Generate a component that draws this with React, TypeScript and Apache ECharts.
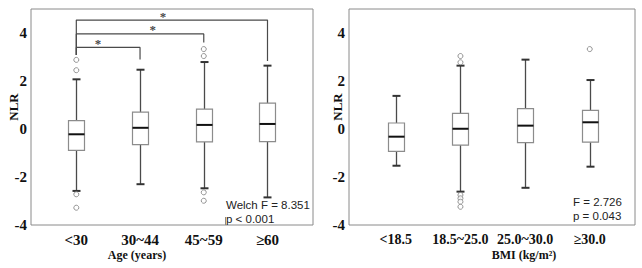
import React, { useEffect, useRef } from "react";
import * as echarts from "echarts";

// ---- Data ----
const ageCategories = ["<30", "30~44", "45~59", "≥60"];
const ageLow = [-2.58, -2.3, -2.47, -2.85];
const ageQ1 = [-0.89, -0.65, -0.54, -0.53];
const ageMedian = [-0.22, 0.05, 0.17, 0.21];
const ageQ3 = [0.35, 0.7, 0.83, 1.08];
const ageHigh = [2.07, 2.47, 2.79, 2.64];
const ageOutlierCat = [1, 1, 1, 1, 3, 3, 3, 3];
const ageOutlierVal = [2.88, 2.45, -2.72, -3.28, 3.33, 3.04, -2.64, -2.99];

const bmiCategories = ["<18.5", "18.5~25.0", "25.0~30.0", "≥30.0"];
const bmiLow = [-1.53, -2.61, -2.45, -1.57];
const bmiQ1 = [-0.93, -0.67, -0.57, -0.55];
const bmiMedian = [-0.32, 0.01, 0.14, 0.28];
const bmiQ3 = [0.25, 0.65, 0.85, 0.78];
const bmiHigh = [1.38, 2.64, 2.89, 2.04];
const bmiOutlierCat = [2, 2, 2, 2, 2, 2, 4];
const bmiOutlierVal = [3.04, 2.78, -2.75, -2.89, -3.03, -3.24, 3.33];

// significance brackets (left panel): from cat, to cat, bracket level, right drop, star x
const bracketFrom = [1, 1, 1];
const bracketTo = [2, 3, 4];
const bracketLevel = [3.4, 3.96, 4.54];
const bracketDrop = [2.9, 3.6, 2.83];
const bracketStarX = [1.34, 2.2, 2.36];
const bracketLeftDrop = 3.08;

const yTicks = [-4, -2, 0, 2, 4];
const ageStat = ["Welch F = 8.351", "p < 0.001"];
const bmiStat = ["F = 2.726", "p = 0.043"];

const serif = "Liberation Serif, Times New Roman, serif";
const sans = "Liberation Sans, Arial, sans-serif";

function boxRows(low: number[], q1: number[], med: number[], q3: number[], high: number[]) {
  return low.map((_, i) => [i + 1, low[i], q1[i], med[i], q3[i], high[i]]);
}

function renderBox(params: any, api: any) {
  const x = api.value(0);
  const lo = api.coord([x, api.value(1)]);
  const q1 = api.coord([x, api.value(2)]);
  const md = api.coord([x, api.value(3)]);
  const q3 = api.coord([x, api.value(4)]);
  const hi = api.coord([x, api.value(5)]);
  const cx = Math.round(lo[0]) + 0.5;
  const half = 8;
  const cap = 4;
  const whisker = { stroke: "#4a4a4a", fill: null, lineWidth: 1.3 };
  const capStyle = { stroke: "#333", fill: null, lineWidth: 2 };
  return {
    type: "group",
    children: [
      { type: "line", shape: { x1: cx, y1: hi[1], x2: cx, y2: q3[1] }, style: whisker },
      { type: "line", shape: { x1: cx, y1: q1[1], x2: cx, y2: lo[1] }, style: whisker },
      { type: "line", shape: { x1: cx - cap, y1: hi[1], x2: cx + cap, y2: hi[1] }, style: capStyle },
      { type: "line", shape: { x1: cx - cap, y1: lo[1], x2: cx + cap, y2: lo[1] }, style: capStyle },
      {
        type: "rect",
        shape: { x: cx - half, y: q3[1], width: half * 2, height: q1[1] - q3[1] },
        style: { fill: "#fff", stroke: "#8c8c8c", lineWidth: 1.2 },
      },
      { type: "line", shape: { x1: cx - half, y1: md[1], x2: cx + half, y2: md[1] }, style: { stroke: "#111", fill: null, lineWidth: 2 } },
    ],
  };
}

function xAxisFor(gridIndex: number, cats: string[], min: number, max: number, fontSize: number) {
  return {
    type: "value",
    gridIndex,
    min,
    max,
    axisLine: { show: false },
    axisTick: { show: false },
    splitLine: { show: false },
    axisLabel: {
      customValues: [1, 2, 3, 4],
      formatter: (v: number) => cats[Math.round(v) - 1] ?? "",
      fontFamily: serif,
      fontWeight: "bold",
      fontSize,
      color: "#111",
      margin: 7,
    },
  };
}

function yAxisFor(gridIndex: number) {
  return {
    type: "value",
    gridIndex,
    min: -4,
    max: 5,
    interval: 2,
    axisLine: { show: false },
    axisTick: { show: false },
    splitLine: { show: false },
    axisLabel: {
      customValues: yTicks,
      fontFamily: serif,
      fontWeight: "bold",
      fontSize: 15,
      color: "#111",
      margin: 4,
    },
  };
}

export default function App() {
  const ref = useRef<HTMLDivElement>(null);
  useEffect(() => {
    if (!ref.current) return;
    const chart = echarts.init(ref.current, undefined, { renderer: "svg" });
    const statStyle = { font: "11.5px " + sans, fill: "#222" };
    const nameStyle = (t: string) => ({ text: t, font: "bold 12px " + serif, fill: "#111", align: "center", verticalAlign: "middle" });
    const bracketSeries = bracketFrom.map((f, i) => ({
      type: "line",
      xAxisIndex: 0,
      yAxisIndex: 0,
      symbol: "none",
      silent: true,
      z: 3,
      lineStyle: { color: "#4a4a4a", width: 1.2 },
      data: [
        [f, bracketLeftDrop],
        [f, bracketLevel[i]],
        [bracketTo[i], bracketLevel[i]],
        [bracketTo[i], bracketDrop[i]],
      ],
    }));
    chart.setOption({
      animation: false,
      backgroundColor: "#fff",
      grid: [
        { left: 31, top: 9, width: 282, height: 216, show: true, borderColor: "#8a8a8a", borderWidth: 1, backgroundColor: "transparent" },
        { left: 349, top: 9, width: 286, height: 216, show: true, borderColor: "#8a8a8a", borderWidth: 1, backgroundColor: "transparent" },
      ],
      xAxis: [xAxisFor(0, ageCategories, 0.289, 4.714, 15), xAxisFor(1, bmiCategories, 0.276, 4.7, 14)],
      yAxis: [yAxisFor(0), yAxisFor(1)],
      series: [
        {
          type: "custom",
          xAxisIndex: 0,
          yAxisIndex: 0,
          renderItem: renderBox,
          data: boxRows(ageLow, ageQ1, ageMedian, ageQ3, ageHigh),
          encode: { x: 0, y: [1, 5] },
          silent: true,
        },
        {
          type: "custom",
          xAxisIndex: 1,
          yAxisIndex: 1,
          renderItem: renderBox,
          data: boxRows(bmiLow, bmiQ1, bmiMedian, bmiQ3, bmiHigh),
          encode: { x: 0, y: [1, 5] },
          silent: true,
        },
        {
          type: "scatter",
          xAxisIndex: 0,
          yAxisIndex: 0,
          symbol: "circle",
          symbolSize: 5,
          itemStyle: { color: "#fff", borderColor: "#7a7a7a", borderWidth: 1 },
          data: ageOutlierCat.map((c, i) => [c, ageOutlierVal[i]]),
          silent: true,
        },
        {
          type: "scatter",
          xAxisIndex: 1,
          yAxisIndex: 1,
          symbol: "circle",
          symbolSize: 5,
          itemStyle: { color: "#fff", borderColor: "#7a7a7a", borderWidth: 1 },
          data: bmiOutlierCat.map((c, i) => [c, bmiOutlierVal[i]]),
          silent: true,
        },
        ...bracketSeries,
        {
          type: "scatter",
          xAxisIndex: 0,
          yAxisIndex: 0,
          symbolSize: 1,
          itemStyle: { color: "transparent" },
          silent: true,
          label: {
            show: true,
            position: "top",
            distance: -3,
            formatter: "*",
            color: "#111",
            fontFamily: serif,
            fontWeight: "bold",
            fontSize: 13,
          },
          data: bracketStarX.map((x, i) => [x, bracketLevel[i]]),
        },
      ],
      graphic: [
        { type: "text", x: 226, y: 205, style: { ...statStyle, text: ageStat[0], verticalAlign: "middle" } },
        { type: "text", x: 226, y: 218.5, style: { ...statStyle, text: ageStat[1], verticalAlign: "middle" } },
        { type: "line", shape: { x1: 225.5, y1: 217, x2: 225.5, y2: 225 }, style: { stroke: "#8a8a8a", lineWidth: 1 } },
        { type: "text", x: 573, y: 202, style: { ...statStyle, text: bmiStat[0], verticalAlign: "middle" } },
        { type: "text", x: 573, y: 215.5, style: { ...statStyle, text: bmiStat[1], verticalAlign: "middle" } },
        { type: "text", x: 137, y: 255, style: nameStyle("Age (years)") },
        { type: "text", x: 524, y: 255, style: nameStyle("BMI (kg/m²)") },
        { type: "text", x: 13, y: 107, rotation: Math.PI / 2, style: { ...nameStyle("NLR"), font: "bold 13px " + serif } },
        { type: "text", x: 337, y: 107, rotation: Math.PI / 2, style: { ...nameStyle("NLR"), font: "bold 13px " + serif } },
      ],
    });
    return () => chart.dispose();
  }, []);
  return <div ref={ref} style={{ position: "fixed", left: 0, top: 0, width: 642, height: 268 }} />;
}
